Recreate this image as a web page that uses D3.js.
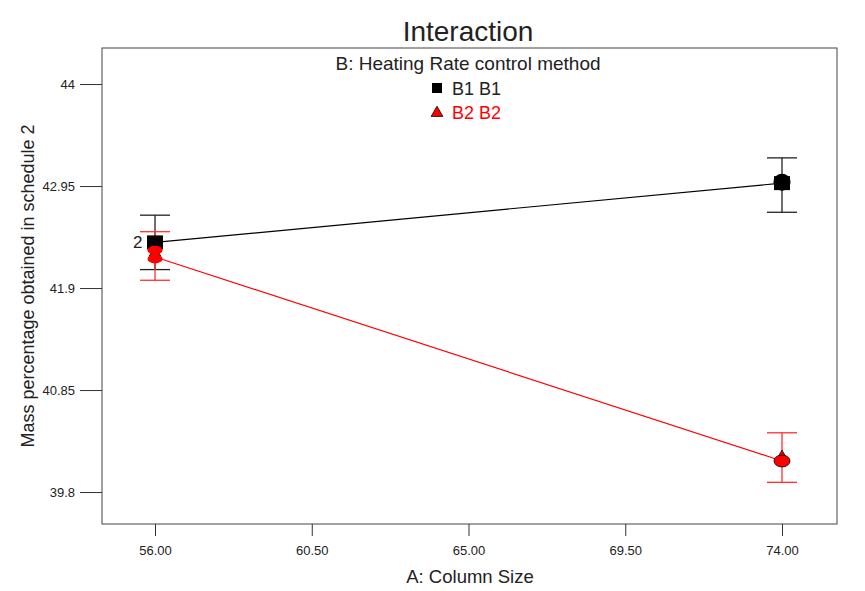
<!DOCTYPE html>
<html>
<head>
<meta charset="utf-8">
<script src="https://cdn.jsdelivr.net/npm/d3@7"></script>
<style>
  body { margin: 0; background: #fff; }
  text { font-family: "Liberation Sans", Arial, sans-serif; fill: #222; }
</style>
</head>
<body>
<div id="chart"></div>
<script>
// factor A levels and tick labels
const levelsA = [56, 74];
const xTicks = [56, 60.5, 65, 69.5, 74];
const yTicks = [39.8, 40.85, 41.9, 42.95, 44];

// series B1 / B2 predicted means with LSD bars
const seriesNames = ["B1 B1", "B2 B2"];
const meanB1 = [42.37, 42.98];
const lowB1 = [42.09, 42.68];
const highB1 = [42.65, 43.24];
const meanB2 = [42.22, 40.12];
const lowB2 = [41.98, 39.90];
const highB2 = [42.48, 40.41];

// design points (actual runs)
const designA = [56, 56, 74, 74];
const designY = [42.29, 42.20, 42.98, 40.12];
const designSeries = [1, 1, 0, 1];

const W = 865, H = 591;
const box = { left: 102, top: 48, right: 837, bottom: 524 };
const colors = ["#000000", "#ff0000"];
const barColors = ["#222222", "#ff3030"];

const svg = d3.select('#chart').append('svg')
    .attr('width', W).attr('height', H);

const x = d3.scaleLinear().domain([54.478, 75.579]).range([box.left, box.right]);
const y = d3.scaleLinear().domain([39.471, 44.371]).range([box.bottom, box.top]);

// plot frame
svg.append('rect')
    .attr('x', box.left).attr('y', box.top)
    .attr('width', box.right - box.left).attr('height', box.bottom - box.top)
    .attr('fill', 'none').attr('stroke', '#444').attr('stroke-width', 1);

// axes
const yAxis = svg.append('g')
    .attr('transform', `translate(${box.left},0)`)
    .call(d3.axisLeft(y).tickValues(yTicks).tickSize(22).tickPadding(5).tickFormat(d => String(d)));
const xAxis = svg.append('g')
    .attr('transform', `translate(0,${box.bottom})`)
    .call(d3.axisBottom(x).tickValues(xTicks).tickSize(12).tickPadding(10).tickFormat(d3.format('.2f')));
[xAxis, yAxis].forEach(g => {
    g.select('.domain').remove();
    g.selectAll('line').attr('stroke', '#333');
    g.selectAll('text').style('font-size', '13px').attr('fill', '#333');
});

// titles
svg.append('text').attr('x', 468).attr('y', 41).attr('text-anchor', 'middle')
    .style('font-size', '28px').text('Interaction');
svg.append('text').attr('x', 468).attr('y', 70).attr('text-anchor', 'middle')
    .style('font-size', '19px').text('B: Heating Rate control method');
svg.append('text').attr('x', 470).attr('y', 583).attr('text-anchor', 'middle')
    .style('font-size', '18.5px').text('A: Column Size');
svg.append('text')
    .attr('transform', `translate(34,286) rotate(-90)`)
    .attr('text-anchor', 'middle').style('font-size', '18px')
    .text('Mass percentage obtained in schedule 2');

// legend
const legend = svg.append('g');
legend.append('rect').attr('x', 432).attr('y', 83).attr('width', 10).attr('height', 10).attr('fill', '#000');
legend.append('text').attr('x', 452).attr('y', 95).style('font-size', '18px').text(seriesNames[0]);
legend.append('path').attr('d', d3.symbol(d3.symbolTriangle, 60)())
    .attr('transform', 'translate(437,113)').attr('fill', '#f00').attr('stroke', '#000').attr('stroke-width', 0.8);
legend.append('text').attr('x', 452).attr('y', 119).style('font-size', '18px').style('fill', '#f00').text(seriesNames[1]);

const series = [
    { mean: meanB1, low: lowB1, high: highB1 },
    { mean: meanB2, low: lowB2, high: highB2 }
];

// error bars
series.forEach((s, i) => {
    const g = svg.append('g').attr('stroke', barColors[i]).attr('stroke-width', 1.3);
    levelsA.forEach((a, j) => {
        g.append('line').attr('x1', x(a)).attr('x2', x(a)).attr('y1', y(s.low[j])).attr('y2', y(s.high[j]));
        g.append('line').attr('x1', x(a) - 15).attr('x2', x(a) + 15).attr('y1', y(s.low[j])).attr('y2', y(s.low[j]));
        g.append('line').attr('x1', x(a) - 15).attr('x2', x(a) + 15).attr('y1', y(s.high[j])).attr('y2', y(s.high[j]));
    });
});

// lines
const line = d3.line().x((d, j) => x(levelsA[j])).y(d => y(d));
series.forEach((s, i) => {
    svg.append('path').datum(s.mean).attr('d', line)
        .attr('fill', 'none').attr('stroke', colors[i]).attr('stroke-width', 1.2);
});

// predicted markers: squares for B1
series[0].mean.forEach((v, j) => {
    svg.append('rect').attr('x', x(levelsA[j]) - 8).attr('y', y(v) - 7)
        .attr('width', 16).attr('height', 14).attr('fill', '#000');
});

// triangles for B2
series[1].mean.forEach((v, j) => {
    svg.append('path').attr('d', d3.symbol(d3.symbolTriangle, 60)())
        .attr('transform', `translate(${x(levelsA[j])},${y(v) - 4})`)
        .attr('fill', '#f00').attr('stroke', '#000').attr('stroke-width', 0.8);
});

// design points
designA.forEach((a, k) => {
    const s = designSeries[k];
    if (s === 0) {
        svg.append('circle').attr('cx', x(a)).attr('cy', y(designY[k]) - 1).attr('r', 8.5).attr('fill', '#000');
    } else {
        const small = a === levelsA[0];
        svg.append('ellipse').attr('cx', x(a)).attr('cy', y(designY[k]))
            .attr('rx', small ? 7.5 : 8).attr('ry', small ? 4.5 : 6)
            .attr('fill', '#f00').attr('stroke', '#000').attr('stroke-width', small ? 0 : 0.8);
    }
});

// count label for repeated design points
svg.append('text').attr('x', x(levelsA[0]) - 22).attr('y', y(meanB1[0]) + 6)
    .style('font-size', '17px').text('2');
</script>
</body>
</html>
